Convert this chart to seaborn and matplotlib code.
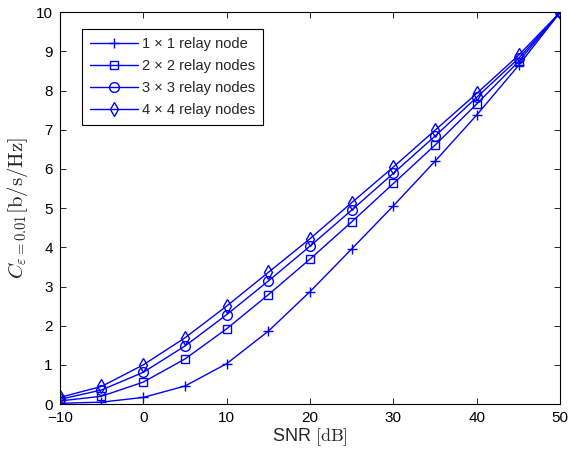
import numpy as np
import pandas as pd
import matplotlib
matplotlib.use("Agg")
import matplotlib.pyplot as plt
import seaborn as sns

# ---------------------------
# Data
# ---------------------------
snr_db = [-10, -5, 0, 5, 10, 15, 20, 25, 30, 35, 40, 45, 50]
cap_1x1 = [0.02, 0.05, 0.17, 0.46, 1.03, 1.86, 2.87, 3.96, 5.06, 6.20, 7.38, 8.64, 10.0]
cap_2x2 = [0.08, 0.20, 0.56, 1.15, 1.92, 2.79, 3.70, 4.65, 5.63, 6.61, 7.66, 8.74, 10.0]
cap_3x3 = [0.12, 0.36, 0.81, 1.48, 2.28, 3.14, 4.03, 4.95, 5.89, 6.84, 7.83, 8.82, 10.0]
cap_4x4 = [0.17, 0.45, 1.00, 1.69, 2.50, 3.36, 4.22, 5.14, 6.05, 6.99, 7.93, 8.90, 10.0]
labels = ["1 \u00d7 1 relay node", "2 \u00d7 2 relay nodes",
          "3 \u00d7 3 relay nodes", "4 \u00d7 4 relay nodes"]
markers = ["+", "s", "o", "d"]
msizes = [7.5, 6, 7, 7.5]

# ---------------------------
# Style
# ---------------------------
sns.set_style("ticks", {"xtick.direction": "in", "ytick.direction": "in"})
plt.rcParams["font.family"] = ["Liberation Sans", "DejaVu Sans"]
plt.rcParams["mathtext.fontset"] = "cm"

fig = plt.figure(figsize=(5.8, 4.5), dpi=100)
ax = fig.add_axes([0.103, 0.102, 0.863, 0.871])

for vals, lab, mk, ms in zip([cap_1x1, cap_2x2, cap_3x3, cap_4x4], labels, markers, msizes):
    df = pd.DataFrame({"snr": snr_db, "cap": vals})
    sns.lineplot(data=df, x="snr", y="cap", ax=ax, color="blue", lw=1.0,
                 marker=mk, markersize=ms, markerfacecolor="none",
                 markeredgecolor="blue", markeredgewidth=1.0, label=lab)

ax.set_xlim(-10, 50)
ax.set_ylim(0, 10)
ax.set_xticks(np.arange(-10, 51, 10))
ax.set_yticks(np.arange(0, 11, 1))
ax.set_xticklabels(["\u221210", "0", "10", "20", "30", "40", "50"])
ax.tick_params(top=True, right=True, length=4, width=0.6, labelsize=11, colors="black", pad=5)
for sp in ax.spines.values():
    sp.set_linewidth(0.8)
    sp.set_color("black")

ax.set_xlabel(r"SNR $[\mathrm{dB}]$", fontsize=13, labelpad=1)
ax.set_ylabel(r"$C_{\varepsilon=0.01}[\mathrm{b/s/Hz}]$", fontsize=15, labelpad=4)

leg = ax.legend(loc="upper left", bbox_to_anchor=(0.044, 0.957), borderaxespad=0,
                fontsize=10.5, handlelength=3.3, frameon=True, fancybox=False,
                framealpha=1, borderpad=0.55, labelspacing=0.55, handletextpad=0.3)
leg.get_frame().set_edgecolor("black")
leg.get_frame().set_linewidth(0.8)

plt.savefig("out.png", dpi=100)
